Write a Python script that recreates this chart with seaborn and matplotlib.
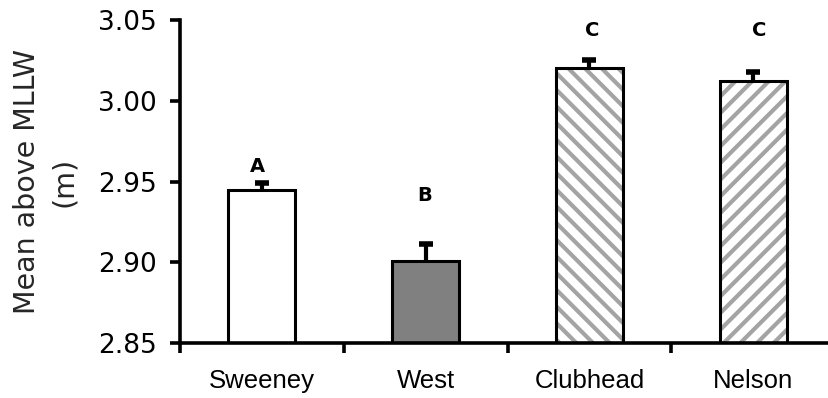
import matplotlib

matplotlib.use("Agg")

import matplotlib.pyplot as plt
import pandas as pd
import seaborn as sns
from matplotlib.colors import to_rgba

SITES = ["Sweeney", "West", "Clubhead", "Nelson"]
MEANS = [2.945, 2.901, 3.020, 3.012]
ERRORS = [0.004, 0.010, 0.005, 0.006]
LETTERS = ["A", "B", "C", "C"]
LETTER_Y = [2.959, 2.9415, 3.0435, 3.0435]
LETTER_DX = [-0.025, -0.005, 0.02, 0.035]
FILLS = ["white", "#808080", "white", "white"]
HATCHES = [None, None, "\\\\", "//"]


def main() -> None:
    sns.set_theme(style="white")
    plt.rcParams["font.family"] = ["DejaVu Sans"]
    plt.rcParams["hatch.linewidth"] = 3.0

    df = pd.DataFrame({"site": SITES, "mean": MEANS})
    tops = [m + e for m, e in zip(MEANS, ERRORS)]

    fig = plt.figure(figsize=(8.29, 3.98), dpi=100)
    ax = fig.add_axes([180 / 829, 55 / 398, 655 / 829, 323 / 398])

    sns.barplot(
        data=df, x="site", y="mean", hue="site", order=SITES,
        palette=dict(zip(SITES, FILLS)), legend=False, width=0.41,
        edgecolor="black", linewidth=2.2, ax=ax, zorder=2,
    )

    for patch, hatch in zip(ax.patches, HATCHES):
        if hatch:
            patch.set_hatch(hatch)
            patch._hatch_color = to_rgba("#a4a4a4")

    # upper error bars only
    ax.vlines(range(len(SITES)), MEANS, tops, color="black", linewidth=3, zorder=3)
    ax.plot(range(len(SITES)), tops, ls="none", marker="_", markersize=10.5,
            markeredgewidth=4, color="black", zorder=3)

    for i, (letter, ly) in enumerate(zip(LETTERS, LETTER_Y)):
        ax.text(i + LETTER_DX[i], ly, letter, ha="center", va="center",
                fontsize=14, fontweight="bold", color="black")

    yticks = [2.85, 2.90, 2.95, 3.00, 3.05]
    ax.set_ylim(2.85, 3.05)
    ax.set_yticks(yticks)
    ax.set_yticklabels([f"{v:.2f}" for v in yticks], fontsize=19)
    ax.set_xlim(-0.5, 3.5)
    ax.set_xticks(range(len(SITES)))
    ax.set_xticklabels(SITES, fontsize=18.5, family=["Liberation Sans", "DejaVu Sans"])
    ax.set_xticks([-0.5, 0.5, 1.5, 2.5], minor=True)

    ax.set_xlabel("")
    ax.set_ylabel("Mean above MLLW\n(m)", fontsize=20.5, labelpad=14, linespacing=1.4)

    sns.despine(ax=ax)
    for side in ["left", "bottom"]:
        ax.spines[side].set_linewidth(2.6)
        ax.spines[side].set_color("black")
    ax.tick_params(axis="y", which="major", direction="out", length=7, width=2.6,
                   left=True, pad=10, colors="black")
    ax.tick_params(axis="x", which="major", length=0, pad=19, colors="black")
    ax.tick_params(axis="x", which="minor", direction="out", length=7, width=2.6,
                   bottom=True, colors="black")

    fig.savefig("out.png", dpi=100, facecolor="white")
    plt.close(fig)


if __name__ == "__main__":
    main()
